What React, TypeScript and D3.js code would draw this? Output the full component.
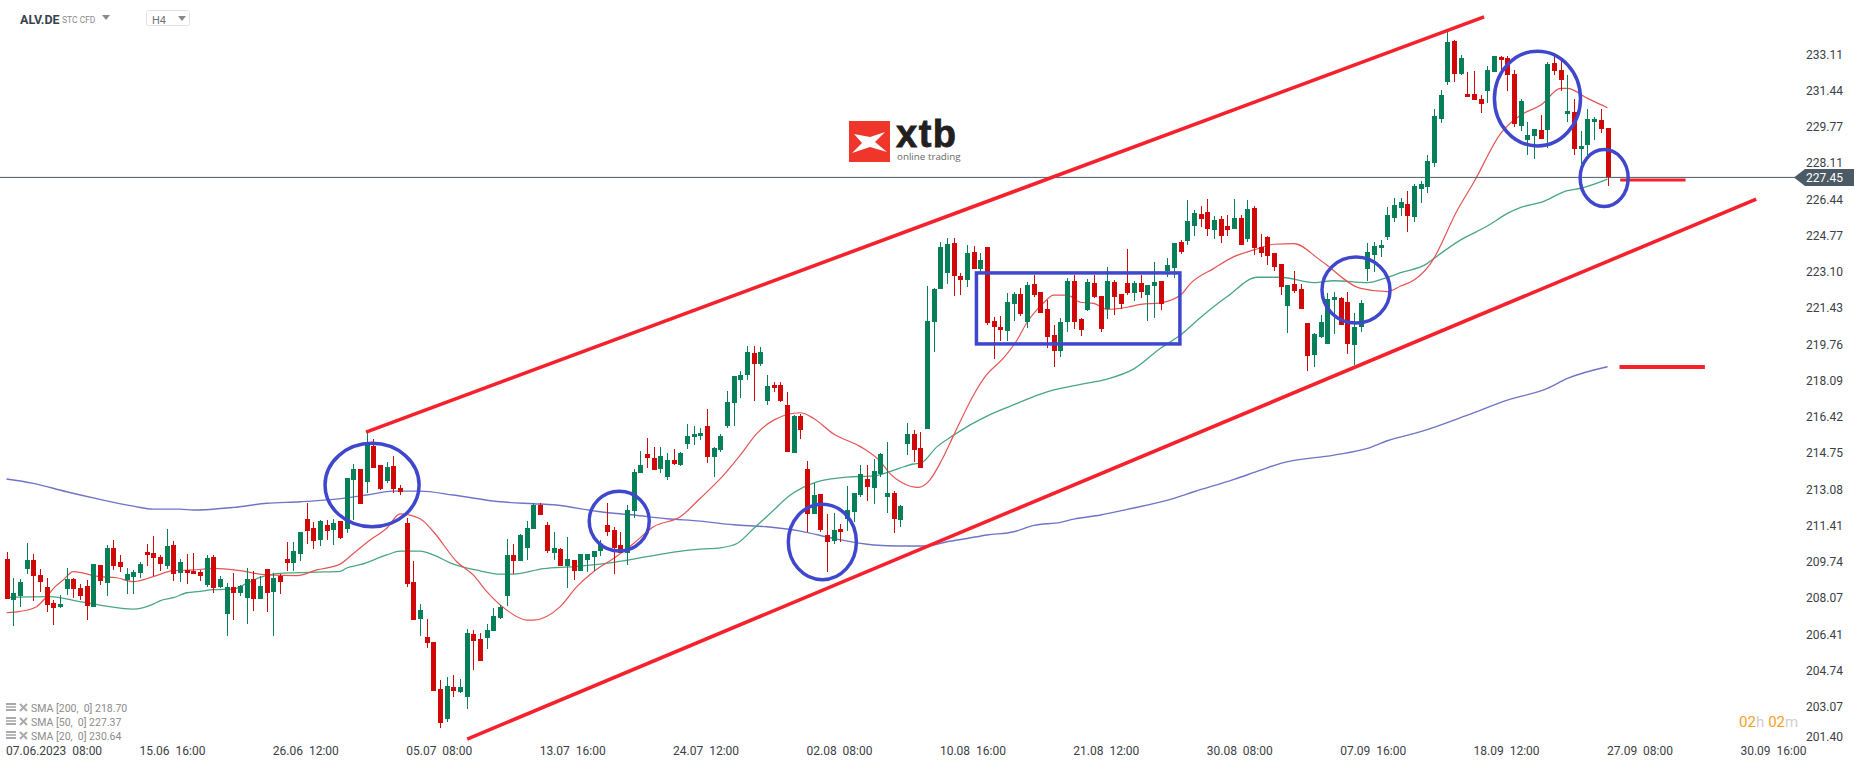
import React from 'react';
import * as d3 from 'd3';

const W = 1866;
const H = 767;

// candle data, H4 bars
const opens = [
  209.87,207.98,208.17,209.41,209.83,209.14,208.58,207.85,207.66,208.49,
  208.95,208.54,208.63,207.66,209.60,208.77,210.38,209.73,208.91,209.04,
  209.23,210.20,210.15,209.96,209.55,210.52,209.23,209.37,209.32,209.27,
  208.67,209.96,208.58,207.34,208.58,208.31,208.08,208.95,208.03,209.41,
  208.35,209.09,209.87,209.69,210.10,211.72,211.30,210.75,211.44,211.21,
  211.62,211.25,213.51,214.02,213.42,215.08,214.20,213.47,214.16,213.14,
  211.53,208.81,207.11,206.28,206.05,203.89,202.50,203.98,203.75,203.52,
  206.42,206.19,206.24,206.56,207.16,208.17,210.06,209.78,210.38,211.25,
  212.36,211.44,210.15,210.33,209.55,209.83,209.32,209.83,209.96,210.24,
  211.44,211.21,210.52,210.15,212.08,213.83,214.71,214.52,214.02,213.65,
  214.43,214.20,215.17,215.49,215.54,216.00,214.57,214.89,216.00,217.06,
  218.12,218.35,219.36,218.85,217.15,217.89,217.89,216.97,214.75,216.46,
  214.02,211.94,212.87,210.98,210.70,211.25,211.71,212.04,212.82,213.56,
  213.14,213.79,212.73,212.91,211.67,215.17,215.63,214.98,215.86,220.79,
  222.31,223.05,224.43,222.91,222.72,224.01,223.23,224.24,220.84,220.56,
  220.38,221.62,222.08,220.79,222.54,222.17,221.39,220.19,219.45,220.79,
  222.68,220.93,221.34,222.59,221.99,221.39,222.63,222.08,222.59,222.13,
  222.59,222.03,222.45,222.68,223.14,223.28,224.48,224.52,225.21,225.76,
  225.86,225.03,225.53,225.21,225.07,225.58,224.61,226.04,224.24,224.70,
  223.97,223.46,221.53,222.54,222.31,220.74,219.27,220.10,219.78,221.80,
  221.90,221.71,219.73,220.56,223.23,223.88,224.20,224.71,225.58,226.04,
  226.22,225.63,226.92,227.01,228.11,230.14,231.84,233.73,232.21,231.29,
  231.29,231.06,231.43,232.30,232.99,232.95,232.21,229.82,229.17,229.36,
  229.63,229.63,232.72,232.40,230.37,230.46,228.76,228.94,230.00,230.09,229.72,
];

const highs = [
  210.18,208.98,208.94,210.61,210.10,209.41,208.98,207.98,208.21,209.46,
  209.00,208.72,208.91,209.64,209.60,210.50,210.75,210.06,209.44,209.37,
  209.73,210.56,210.93,210.06,211.25,210.70,209.87,210.10,210.15,209.37,
  210.06,210.06,209.09,208.77,209.23,208.67,209.46,209.32,209.09,209.41,
  209.23,209.18,210.66,210.66,211.12,212.45,211.57,211.67,211.67,211.73,
  211.62,213.60,214.25,214.02,215.72,215.40,214.20,214.34,214.62,213.28,
  211.76,209.78,207.80,207.11,206.05,204.30,204.44,204.53,204.35,206.65,
  206.60,206.47,206.88,207.62,207.76,210.80,210.56,211.02,211.62,212.44,
  212.44,211.58,211.12,210.38,210.89,209.83,210.10,210.10,210.24,210.75,
  212.45,211.35,211.12,212.36,214.00,214.85,215.45,215.03,215.03,214.75,
  214.94,214.80,216.09,216.00,215.91,216.78,215.03,215.63,217.61,218.30,
  218.53,219.68,219.68,219.64,218.35,218.02,218.02,217.56,216.50,216.55,
  214.39,213.37,212.87,211.94,211.99,211.48,213.23,212.91,214.20,214.20,
  214.48,214.75,215.26,213.00,212.36,216.14,215.81,215.72,222.45,222.36,
  224.48,224.66,224.66,223.05,224.34,224.29,223.97,224.24,221.02,221.07,
  222.13,222.17,222.36,222.63,222.96,222.17,221.80,220.65,220.97,222.82,
  222.96,220.97,222.77,222.96,221.99,223.32,222.72,222.08,224.15,222.68,
  222.96,222.49,223.55,222.68,223.74,224.43,224.57,226.41,225.95,226.13,
  226.45,225.67,225.67,225.72,226.45,225.72,226.41,226.13,224.84,224.75,
  223.97,223.46,222.49,223.14,222.54,220.74,220.28,221.11,222.13,222.17,
  221.94,222.17,221.20,221.80,224.43,224.48,224.57,226.09,226.50,226.50,
  226.82,227.15,227.28,228.48,230.60,231.48,234.15,233.78,233.09,232.30,
  232.35,231.24,232.58,233.04,233.04,233.04,232.40,231.06,230.00,229.68,
  230.32,232.76,233.09,232.81,232.17,231.06,229.59,230.60,230.23,230.60,229.72,
];

const lows = [
  208.03,206.80,207.67,209.18,207.94,208.37,207.43,206.83,207.62,208.21,
  208.08,207.98,207.06,207.66,208.67,208.17,209.37,209.27,208.26,208.26,
  209.00,209.55,209.09,209.32,209.41,208.86,208.81,208.72,209.18,208.86,
  208.58,208.31,208.54,206.34,207.06,208.17,206.88,207.48,208.03,207.43,
  206.34,208.26,209.32,209.32,209.78,210.56,210.33,210.47,210.75,210.52,
  210.79,211.07,211.67,212.41,212.91,214.06,213.05,213.37,212.91,212.82,
  208.58,207.06,206.33,205.77,203.79,202.09,202.37,203.52,203.70,202.96,
  204.76,205.18,205.73,206.56,207.11,207.71,209.18,209.83,209.83,211.25,
  211.90,210.15,209.83,209.55,208.54,208.90,209.32,209.27,209.32,210.01,
  210.93,209.18,210.15,209.60,211.76,213.83,214.06,213.97,213.83,213.51,
  214.20,214.16,214.94,215.12,215.35,214.29,213.65,214.80,215.91,216.00,
  217.29,218.12,217.15,218.76,216.97,217.56,217.10,214.80,214.75,215.40,
  211.12,211.94,211.12,209.27,210.56,210.65,211.16,211.58,212.73,212.54,
  212.41,213.65,211.99,211.07,211.35,214.68,214.34,214.06,215.86,219.41,
  222.31,222.54,221.99,222.03,222.40,223.23,223.09,220.65,219.09,219.92,
  219.92,220.84,221.07,220.51,221.94,221.20,219.59,218.72,219.18,220.33,
  220.47,220.15,221.30,221.90,220.33,220.93,221.11,221.39,222.03,221.76,
  221.90,220.84,220.97,221.34,222.86,222.82,223.92,224.34,224.75,225.17,
  224.75,224.61,224.43,224.75,225.07,224.34,224.47,223.88,223.78,223.41,
  223.14,222.03,220.28,222.13,221.39,218.53,218.72,220.05,219.78,220.24,
  220.65,219.32,218.81,220.33,222.68,223.09,223.78,224.57,225.40,225.67,
  224.93,225.40,226.27,226.73,227.93,229.96,231.70,231.84,232.17,231.15,
  231.01,230.41,230.88,232.30,232.40,231.43,229.77,229.59,228.48,228.30,
  229.22,228.80,232.17,231.43,230.00,228.48,228.07,228.48,229.17,229.49,227.05,
];

const closes = [
  208.03,208.31,208.81,209.83,209.09,208.81,207.76,207.62,207.80,208.95,
  208.49,208.17,207.71,209.64,208.86,210.38,209.55,209.50,209.18,209.27,
  209.64,210.06,209.92,209.64,210.47,209.18,209.73,209.23,209.18,209.09,
  209.92,208.54,208.95,208.58,208.31,208.63,208.95,208.03,208.63,208.31,
  209.00,208.81,209.69,210.24,211.12,211.16,210.70,211.62,211.16,211.53,
  210.84,213.60,214.02,212.41,215.12,214.06,213.10,214.11,213.10,212.96,
  208.72,207.06,207.52,206.00,203.79,202.32,204.02,203.79,203.98,206.47,
  206.10,205.18,206.60,207.25,207.66,210.06,209.78,210.98,211.30,212.36,
  211.90,210.24,210.38,209.55,209.87,209.32,210.10,210.10,210.24,210.56,
  211.12,210.38,210.15,212.13,213.88,214.20,214.52,213.97,214.62,214.43,
  214.25,214.75,215.54,215.63,215.68,214.57,214.98,215.54,217.10,218.30,
  218.35,219.41,218.85,219.41,217.84,217.75,217.15,214.80,216.46,215.81,
  211.94,212.82,211.21,210.65,211.21,211.12,212.13,212.91,213.79,213.19,
  213.93,214.71,212.91,211.71,212.31,215.63,214.89,214.06,220.84,222.31,
  224.24,224.38,222.91,222.72,223.97,223.23,223.65,220.74,220.56,220.42,
  221.71,222.08,221.16,222.49,222.03,221.20,220.10,219.45,220.79,222.68,
  220.79,220.42,222.63,221.94,220.47,222.68,221.94,221.62,222.13,222.59,
  222.17,222.49,222.63,221.62,223.42,224.43,224.01,225.44,225.81,225.53,
  225.07,225.49,224.75,225.03,225.58,224.34,225.99,224.20,223.97,223.83,
  223.32,222.40,222.49,222.22,221.39,219.22,220.24,220.79,221.85,221.94,
  220.65,219.78,220.56,221.66,224.01,224.29,224.34,225.72,226.18,226.32,
  225.67,227.05,227.15,228.21,230.28,231.25,233.69,232.21,232.95,231.15,
  231.01,230.83,232.40,233.04,232.84,232.17,229.91,230.97,229.40,229.68,
  229.22,232.67,232.35,231.94,230.51,228.76,228.89,230.14,230.14,229.68,227.45,
];

// moving averages: bar index + value pairs
const sma200Bars = [0,4,9,14,19,22,26,28,34,39,44,49,54,58,62,67,74,79,82,89,94,99,104,109,114,119,124,130,134,138,141,144,147,151,154,158,160,164,168,175,178,184,188,191,199,204,207,212,219,225,231,234,240];
const sma200Vals = [213.56,213.36,212.97,212.62,212.31,212.17,212.17,212.13,212.25,212.44,212.51,212.62,212.82,213.00,213.00,212.82,212.51,212.42,212.37,212.05,211.90,211.73,211.62,211.45,211.36,211.16,210.82,210.52,210.47,210.47,210.67,210.82,210.98,211.13,211.42,211.56,211.71,211.90,212.16,212.67,212.97,213.54,213.97,214.28,214.66,214.97,215.32,215.74,216.50,217.19,217.73,218.19,218.73];

const sma50Bars = [0,6.5,11,14,19,22,23,25,27,29,31,34,36,38,40,43,46.5,50,51,53,57,59,62,64,66.5,71,74,76,80.5,85,91,96,100,104,107,109.5,112,114.5,117.5,121.5,126,130,133.8,136,137,139.5,142,144.4,147.6,151.5,155,157,161,165,169,173,176,179,183,187.5,191,196,199,204,207,209,213,214,218,222,225,227,230,234,236,240];
const sma50Vals = [208.11,208.14,207.91,207.75,207.57,207.80,207.95,208.09,208.32,208.38,208.46,208.49,208.75,209.03,209.18,209.24,209.27,209.30,209.46,209.61,210.06,210.24,210.24,210.06,209.70,209.33,209.18,209.18,209.43,209.52,209.72,209.98,210.19,210.33,210.39,210.59,211.28,211.98,212.82,213.43,213.65,213.70,214.05,214.25,214.28,215.05,215.58,216.04,216.55,217.04,217.47,217.66,217.92,218.16,218.63,219.58,220.19,221.00,221.96,222.85,222.85,222.60,222.69,222.60,222.85,223.06,223.49,223.72,224.57,225.21,225.79,226.07,226.30,226.84,226.95,227.37];

const sma20Bars = [0,2,4.5,6,7.3,8.5,10,14,16.5,19,22,25,28,31,35,39,43.5,46.5,50,52,54.5,57,59,62,64,67.5,70,72,75,78,79,83,85.5,88,91,94,97,101,104,107.5,110,112.5,115,119,121,124,128,131,132.4,134.2,136.7,138.4,140.2,142,145.1,146.9,149.4,151.5,152.9,155.4,157,159,161,163,165,168,170,173,176,177.5,181,184,187,190,193,197,203,207,209,211,213.5,217.5,220,224,227,230,233,234,237,240];
const sma20Vals = [207.40,207.46,207.68,208.14,208.60,208.91,209.29,209.06,209.01,208.83,209.06,209.34,209.37,209.44,209.34,209.14,209.11,209.37,209.64,210.13,210.75,211.29,211.95,211.73,211.13,209.75,209.13,208.37,207.52,207.06,207.06,207.68,208.60,209.29,209.90,210.59,211.36,211.82,212.67,213.74,214.66,215.66,216.27,216.61,216.35,215.63,215.05,214.36,213.82,213.40,213.17,213.51,214.43,215.58,217.50,218.35,219.11,219.96,220.73,221.65,222.03,222.03,221.70,221.65,221.37,221.47,221.60,221.67,222.03,222.57,223.26,223.80,224.11,224.37,224.40,223.62,222.34,222.19,222.45,222.72,223.49,225.95,227.25,229.48,230.32,230.78,231.55,231.55,231.09,230.66];

const priceTicks = [233.11,231.44,229.77,228.11,226.44,224.77,223.10,221.43,219.76,218.09,216.42,214.75,213.08,211.41,209.74,208.07,206.41,204.74,203.07,201.40];
const dateLabels = ['07.06.2023  08:00','15.06  16:00','26.06  12:00','05.07  08:00','13.07  16:00','24.07  12:00','02.08  08:00','10.08  16:00','21.08  12:00','30.08  08:00','07.09  16:00','18.09  12:00','27.09  08:00','30.09  16:00'];
const legendLabels = ['SMA [200,  0] 218.70','SMA [50,  0] 227.37','SMA [20,  0] 230.64'];
const lastPrice = 227.45;

// drawn annotations, given in bar / price units
const trendLines = [
  { b0: 53.9, p0: 215.72, b1: 221.5, p1: 234.84, w: 3.6 },
  { b0: 69.06, p0: 201.58, b1: 262.3, p1: 226.45, w: 3.6 },
  { b0: 241.9, p0: 227.33, b1: 251.7, p1: 227.33, w: 3.2 },
  { b0: 241.8, p0: 218.72, b1: 254.6, p1: 218.72, w: 4 },
];
const circles = [
  { bar: 54.8, price: 213.28, rb: 7.05, rp: 1.92 },
  { bar: 91.85, price: 211.62, rb: 4.5, rp: 1.38 },
  { bar: 122.3, price: 210.66, rb: 5.1, rp: 1.74 },
  { bar: 202.3, price: 222.26, rb: 5.1, rp: 1.52 },
  { bar: 229.5, price: 231.08, rb: 6.45, rp: 2.18 },
  { bar: 239.5, price: 227.42, rb: 3.6, rp: 1.31 },
];
const box = { b0: 145.4, b1: 175.9, top: 223.05, bottom: 219.78 };

const x = d3.scaleLinear().domain([0, 240]).range([6.5, 1607.5]);
const y = d3.scaleLinear().domain([201.4, 233.11]).range([743, 54.5]);

const GREEN = '#07805a';
const RED = '#d10808';
const FONT = 'Roboto, sans-serif';

const smaPath = (bars: number[], vals: number[]) =>
  d3.line<number>()
    .x((d) => x(d))
    .y((_, i) => y(vals[i]))
    .curve(d3.curveMonotoneX)(bars) as string;

const App = () => {
  return (
    <svg width={W} height={H} style={{ position: 'fixed', left: 0, top: 0, background: '#fff' }} fontFamily={FONT}>
      {/* header */}
      <text x={20} y={23.5} fontSize={12.5} fontWeight={700} fill="#36434d">ALV.DE</text>
      <text x={62} y={23} fontSize={8.5} fill="#8a8a8a">STC CFD</text>
      <path d="M102,15h8l-4,5z" fill="#8a8a8a" />
      <rect x={146.5} y={10.5} width={43} height={15} rx={2} fill="#fff" stroke="#e2e2e2" />
      <text x={152} y={24} fontSize={11} fill="#6d7780">H4</text>
      <path d="M178,16h8l-4,5z" fill="#8a8a8a" />

      {/* logo */}
      <rect x={849} y={121} width={41} height={41} fill="#f0352b" />
      <path d="M854,134L870,137L885,132L875,142L887,152L870,147L852,153L862,143Z" fill="#fff" />
      <text x={896} y={147} fontSize={38} fontWeight={700} fontFamily="'Liberation Sans', sans-serif" fill="#231f20" stroke="#231f20" strokeWidth={0.8} letterSpacing={1.5}>xtb</text>
      <text x={897} y={159.5} fontSize={9.8} fontFamily="'Open Sans', sans-serif" fill="#666">online trading</text>

      {/* SMA lines */}
      <path d={smaPath(sma200Bars, sma200Vals)} fill="none" stroke="#6f75c6" strokeWidth={1.4} />
      <path d={smaPath(sma50Bars, sma50Vals)} fill="none" stroke="#4aa583" strokeWidth={1.3} />
      <path d={smaPath(sma20Bars, sma20Vals)} fill="none" stroke="#e55454" strokeWidth={1.2} />

      {/* last price line */}
      <line x1={0} x2={1795} y1={y(lastPrice)} y2={y(lastPrice)} stroke="#4b5a62" strokeWidth={1} />

      {/* candles */}
      <g shapeRendering="crispEdges">
        {opens.map((o, i) => {
          const c = closes[i];
          const color = c >= o ? GREEN : RED;
          const cx = Math.round(x(i));
          const top = y(Math.max(o, c));
          const bottom = y(Math.min(o, c));
          return (
            <g key={i} fill={color}>
              <rect x={cx} width={1} y={y(highs[i])} height={Math.max(y(lows[i]) - y(highs[i]), 1)} />
              <rect x={cx - 2} width={5} y={top} height={Math.max(bottom - top, 1)} />
            </g>
          );
        })}
      </g>

      {/* annotations */}
      {trendLines.map((l, i) => (
        <line key={i} x1={x(l.b0)} y1={y(l.p0)} x2={x(l.b1)} y2={y(l.p1)} stroke="#f5222d" strokeWidth={l.w} />
      ))}
      {circles.map((c, i) => (
        <ellipse
          key={i}
          cx={x(c.bar)}
          cy={y(c.price)}
          rx={x(c.bar + c.rb) - x(c.bar)}
          ry={y(c.price - c.rp) - y(c.price)}
          fill="none"
          stroke="#3f47cc"
          strokeWidth={3.5}
        />
      ))}
      <rect
        x={x(box.b0)}
        y={y(box.top)}
        width={x(box.b1) - x(box.b0)}
        height={y(box.bottom) - y(box.top)}
        fill="none"
        stroke="#3f47cc"
        strokeWidth={3.5}
      />

      {/* price axis */}
      {priceTicks.map((t) => (
        <text key={t} x={1806} y={Math.min(y(t), 737)} dy="0.36em" fontSize={12} fill="#3b4046">{t.toFixed(2)}</text>
      ))}
      <path d={`M1794,${y(lastPrice)}l11,-8.5h49v17h-49z`} fill="#4b5a64" />
      <text x={1806} y={y(lastPrice)} dy="0.36em" fontSize={12} fill="#fff">{lastPrice.toFixed(2)}</text>

      {/* time axis */}
      {dateLabels.map((d, i) => (
        <text key={d} x={x(i * 20) - 0.5} y={755} fontSize={12} fill="#3b4046" style={{ whiteSpace: 'pre' }}>{d}</text>
      ))}

      {/* countdown */}
      <text x={1739} y={727} fontSize={15}>
        <tspan fill="#f7a11e">02</tspan><tspan fill="#cfcfcf">h</tspan>
        <tspan fill="#f7a11e" dx={4}>02</tspan><tspan fill="#cfcfcf">m</tspan>
      </text>

      {/* indicator legend */}
      {legendLabels.map((l, i) => (
        <g key={l} transform={`translate(0,${708 + i * 14})`}>
          <rect x={6} y={-5} width={10} height={2} fill="#aaa" />
          <rect x={6} y={-2} width={10} height={2} fill="#bbb" />
          <rect x={6} y={1} width={10} height={2} fill="#aaa" />
          <path d="M20,-4L27,3M27,-4L20,3" stroke="#aaa" strokeWidth={2} />
          <text x={31} y={4} fontSize={10.5} fill="#8c8c8c" style={{ whiteSpace: 'pre' }}>{l}</text>
        </g>
      ))}
    </svg>
  );
};

export default App;
